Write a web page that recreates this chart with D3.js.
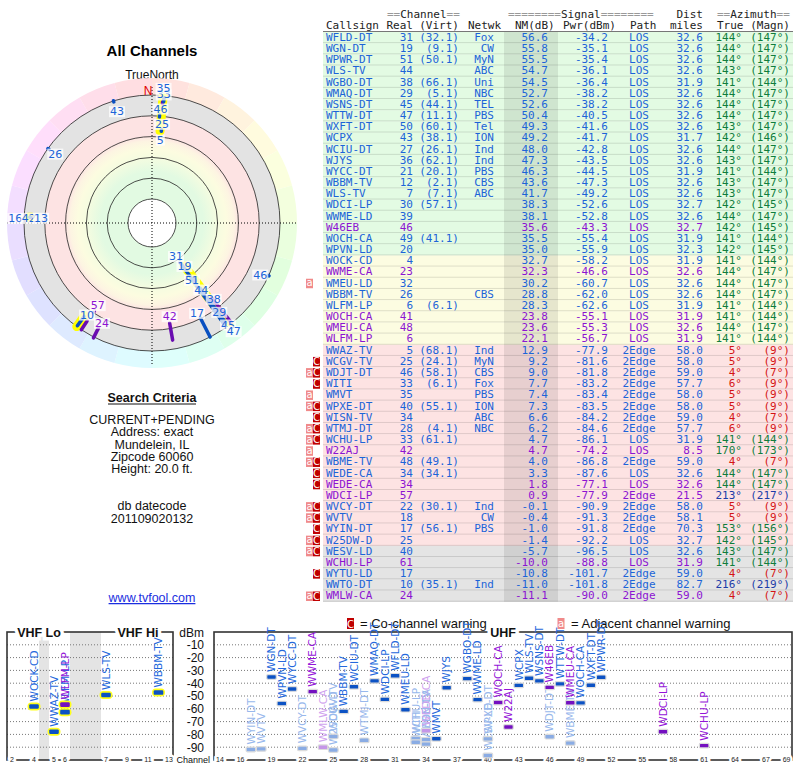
<!DOCTYPE html>
<html><head><meta charset="utf-8">
<script src="https://cdn.jsdelivr.net/npm/d3@7"></script>
<style>
body{margin:0;background:#fff;}
svg{display:block;}
</style></head>
<body>
<svg id="c" width="800" height="768"></svg>
<script>
// ================= DATA =================
const callsigns = ["WFLD-DT","WGN-DT","WPWR-DT","WLS-TV","WGBO-DT","WMAQ-DT","WSNS-DT","WTTW-DT","WXFT-DT","WCPX","WCIU-DT","WJYS","WYCC-DT","WBBM-TV","WLS-TV","WDCI-LP","WWME-LD","W46EB","WOCH-CA","WPVN-LD","WOCK-CD","WWME-CA","WMEU-LD","WBBM-TV","WLFM-LP","WOCH-CA","WMEU-CA","WLFM-LP","WWAZ-TV","WCGV-TV","WDJT-DT","WITI","WMVT","WPXE-DT","WISN-TV","WTMJ-DT","WCHU-LP","W22AJ","WBME-TV","WEDE-CA","WEDE-CA","WDCI-LP","WVCY-DT","WVTV","WYIN-DT","W25DW-D","WESV-LD","WCHU-LP","WYTU-LD","WWTO-DT","WMLW-CA"];
const realCh = [31,19,51,44,38,29,45,47,50,43,27,36,21,12,7,30,39,46,49,20,4,23,32,26,6,41,48,6,5,25,46,33,35,40,34,28,33,42,48,34,34,57,22,18,17,25,40,61,17,10,24];
const virtCh = [32.1,9.1,50.1,null,66.1,5.1,44.1,11.1,60.1,38.1,26.1,62.1,20.1,2.1,7.1,57.1,null,null,41.1,null,null,null,null,null,6.1,null,null,null,68.1,24.1,58.1,6.1,null,55.1,null,4.1,61.1,null,49.1,34.1,null,null,30.1,null,56.1,null,null,null,null,35.1,null];
const networks = ["Fox","CW","MyN","ABC","Uni","NBC","TEL","PBS","Tel","ION","Ind","Ind","PBS","CBS","ABC","","","","","","","","","CBS","","","","","Ind","MyN","CBS","Fox","PBS","ION","ABC","NBC","","","","","","","Ind","CW","PBS","","","","","Ind",""];
const nmDb = [56.6,55.8,55.5,54.7,54.5,52.7,52.6,50.4,49.3,49.2,48.0,47.3,46.3,43.6,41.7,38.3,38.1,35.6,35.5,35.0,32.7,32.3,30.2,28.8,28.3,23.8,23.6,22.1,12.9,9.2,9.0,7.7,7.4,7.3,6.6,6.2,4.7,4.7,4.0,3.3,1.8,0.9,-0.1,-0.4,-1.0,-1.4,-5.7,-10.0,-10.8,-11.0,-11.1];
const pwrDbm = [-34.2,-35.1,-35.4,-36.1,-36.4,-38.2,-38.2,-40.5,-41.6,-41.7,-42.8,-43.5,-44.5,-47.3,-49.2,-52.6,-52.8,-43.3,-55.4,-55.9,-58.2,-46.6,-60.7,-62.0,-62.6,-55.1,-55.3,-56.7,-77.9,-81.6,-81.8,-83.2,-83.4,-83.5,-84.2,-84.6,-86.1,-74.2,-86.8,-87.6,-77.1,-77.9,-90.9,-91.3,-91.8,-92.2,-96.5,-88.8,-101.7,-101.8,-90.0];
const paths = ["LOS","LOS","LOS","LOS","LOS","LOS","LOS","LOS","LOS","LOS","LOS","LOS","LOS","LOS","LOS","LOS","LOS","LOS","LOS","LOS","LOS","LOS","LOS","LOS","LOS","LOS","LOS","LOS","2Edge","2Edge","2Edge","2Edge","2Edge","2Edge","2Edge","2Edge","LOS","LOS","2Edge","LOS","LOS","2Edge","2Edge","2Edge","2Edge","LOS","LOS","LOS","2Edge","2Edge","2Edge"];
const distMi = [32.6,32.6,32.6,32.6,31.9,32.6,32.6,32.6,32.6,31.7,32.6,32.6,31.9,32.6,32.6,32.7,32.6,32.7,31.9,32.3,31.9,32.6,32.6,32.6,31.9,31.9,32.6,31.9,58.0,58.0,59.0,57.7,58.0,58.0,59.0,57.7,31.9,8.5,59.0,32.6,32.6,21.5,58.0,58.1,70.3,32.7,32.6,31.9,59.0,82.7,59.0];
const azTrue = [144,144,144,143,141,144,144,144,143,142,144,143,141,143,143,142,144,142,141,142,141,144,144,144,141,141,144,141,5,5,4,6,5,5,4,6,141,170,4,144,144,213,5,5,153,142,143,141,4,216,4];
const azMagn = [147,147,147,147,144,147,147,147,147,146,147,147,144,147,147,145,147,145,144,145,144,147,147,147,144,144,147,144,9,9,7,9,9,9,7,9,144,173,7,147,147,217,9,9,156,145,147,144,7,219,7];
const pending = [0,0,0,0,0,0,0,0,0,0,0,0,0,0,0,0,0,1,0,0,0,1,0,0,0,1,1,1,0,0,0,0,0,0,0,0,0,1,0,0,1,1,0,0,0,0,0,1,0,0,1];
const warnings = ["","","","","","","","","","","","","","","","","","","","","","","a","","","","","","","C","aC","C","a","aC","C","aC","aC","a","aC","C","C","","aC","aC","C","aC","aC","","C","","aC"];

// polar plot (azimuth in degrees, levels in dB on the radar scale)
const polarRings = [75,55,35,15,-5,-25];
const hlAz   = [143, 5, 216, 272.7];
const hlFrom = [47, 9.5, -12, -17.5];
const hlTo   = [-26, -26, -25, -20.5];
const pmAz   = [144.5, 143, 141.5, 143.5, 5.8, 4, 5, 5.5, 170, 153, 207, 213.2, 216, 213.5, 342.5, 305.6, 272.7, 114.3];
const pmFrom = [52, 31.5, 6, 20, 9.5, -4, -17, -19, 0.5, -4.4, -15.4, -3, -13, -15, -24, -23.8, -18.5, -24.3];
const pmTo   = [-22, 28.5, -24, -21, 8, -6, -19, -23, -16.3, -25, -25.9, -4, -24, -25, -25.2, -25, -19.5, -25.4];
const pmPending = [0,0,1,0,0,0,1,0,1,0,1,1,0,1,0,0,0,0];
const plText  = ["31","19","51","44","38","29","45","47","42","17","24","57","10","43","26","16","42","13","46","5","25","46","33","35"];
const plAz    = [144.2,143,144.8,143.5,140.9,142.9,143.2,143,169.3,153.4,206.6,213.4,215.3,342.6,305.6,272,272.3,272.6,115.5,5.7,5.8,4.2,5.2,4.9];
const plLevel = [58.7,46.2,31.3,18.3,3.9,-9.2,-24,-32.4,6.7,1.3,-9.4,3.3,-10,-14.4,-16.3,-33.5,-20.6,-8.7,-17.3,17.6,2.4,-12.1,-25.9,-32.2];
const plPending = [0,0,0,0,0,0,0,0,1,0,1,1,0,0,0,0,0,0,0,0,0,0,0,0];

// spectrum charts
const dbmTicks = [-10,-20,-30,-40,-50,-60,-70,-80,-90];
const vhfTicks = [2,4,5,6,7,9,11,13];
const vhfGaps = [[4,5],[6,7]];
const uhfTicks = [14,16,19,22,25,28,31,34,37,40,43,46,49,52,55,58,61,64,67,69];

const searchLines = ["CURRENT+PENDING","Address: exact","Mundelein, IL","Zipcode 60060","Height: 20.0 ft."];

// ================= DRAW =================
const SANS = "'Liberation Sans', Arial, sans-serif";
const MONO = "'DejaVu Sans Mono', monospace";
const VER = "'DejaVu Sans', Verdana, sans-serif";
const BLUE = "#1c64d8", PURPLE = "#8c14d2";
const svg = d3.select("#c");

// ---------- Left: polar ----------
svg.append("text").attr("x",152).attr("y",56).attr("text-anchor","middle")
  .attr("font-family",SANS).attr("font-weight","bold").attr("font-size",15).text("All Channels");
svg.append("text").attr("x",152).attr("y",79).attr("text-anchor","middle")
  .attr("font-family",SANS).attr("font-size",12).attr("fill","#111").text("TrueNorth");

const cx = 152, cy = 223;
const rScale = d3.scaleLinear().domain([75,-25]).range([24,128]);
const P = (az, v) => { const r = rScale(v), a = az*Math.PI/180; return [cx + r*Math.sin(a), cy - r*Math.cos(a)]; };
const pg = svg.append("g");
const defs = svg.append("defs");
const rg = defs.append("radialGradient").attr("id","bands").attr("gradientUnits","userSpaceOnUse")
  .attr("cx",cx).attr("cy",cy).attr("r",rScale(-25));
[[0,"#e2fae2"],[0.40,"#e2fae2"],[0.52,"#f6fce0"],[0.58,"#fcfce0"],[0.64,"#fdf4e2"],[0.68,"#fde3e3"],[0.835,"#fde3e3"],[0.84,"#e3e3e3"],[1,"#e3e3e3"]]
  .forEach(s=>rg.append("stop").attr("offset",s[0]).attr("stop-color",s[1]));

const arc = d3.arc();
const outerR = rScale(-25) + 17;
pg.selectAll("path.hue").data(d3.range(24)).join("path")
  .attr("transform",`translate(${cx},${cy})`)
  .attr("d", i => arc({innerRadius: rScale(-25)-1, outerRadius: outerR, startAngle: i*15*Math.PI/180, endAngle:(i+1)*15*Math.PI/180}))
  .attr("fill", i => d3.hsl(i*15+7.5, 1, 0.935).toString()).attr("stroke","none");
pg.append("circle").attr("cx",cx).attr("cy",cy).attr("r",rScale(-25)).attr("fill","url(#bands)");
pg.selectAll("circle.ring").data(polarRings).join("circle")
  .attr("cx",cx).attr("cy",cy).attr("r",d=>rScale(d))
  .attr("fill",(d,i)=> i===0 ? "#fff" : "none").attr("stroke","#222").attr("stroke-width",0.8);
pg.append("line").attr("x1",cx).attr("x2",cx).attr("y1",87).attr("y2",365)
  .attr("stroke","#000").attr("stroke-width",1).attr("stroke-dasharray","1,2");
pg.append("line").attr("x1",7).attr("x2",297).attr("y1",cy).attr("y2",cy)
  .attr("stroke","#000").attr("stroke-width",1).attr("stroke-dasharray","1,2");
pg.append("text").attr("x",148).attr("y",95).attr("text-anchor","middle").attr("font-family",SANS)
  .attr("font-size",12).attr("fill","#e00000").text("N");

// highlights
pg.selectAll("line.hl").data(d3.range(hlAz.length)).join("line")
  .attr("x1",i=>P(hlAz[i],hlFrom[i])[0]).attr("y1",i=>P(hlAz[i],hlFrom[i])[1])
  .attr("x2",i=>P(hlAz[i],hlTo[i])[0]).attr("y2",i=>P(hlAz[i],hlTo[i])[1])
  .attr("stroke","#ffff00").attr("stroke-width",9).attr("stroke-linecap","round");
// marks
pg.selectAll("line.pm").data(d3.range(pmAz.length)).join("line")
  .attr("x1",i=>P(pmAz[i],pmFrom[i])[0]).attr("y1",i=>P(pmAz[i],pmFrom[i])[1])
  .attr("x2",i=>P(pmAz[i],pmTo[i])[0]).attr("y2",i=>P(pmAz[i],pmTo[i])[1])
  .attr("stroke",i=>pmPending[i] ? "#6a0cb0" : "#0a50c0").attr("stroke-width",3.5).attr("stroke-linecap","round");
// labels
plText.forEach((t,i)=>{
  const [x,y] = P(plAz[i], plLevel[i]);
  const lg = pg.append("g");
  const tx = lg.append("text").attr("x",x).attr("y",y).attr("dy","0.35em").attr("text-anchor","middle")
    .attr("font-family",VER).attr("font-size",11).attr("fill",plPending[i]?PURPLE:BLUE).text(t);
  const b = tx.node().getBBox();
  lg.insert("rect","text").attr("x",b.x-1).attr("y",b.y+1).attr("width",b.width+2).attr("height",b.height-2)
    .attr("fill","#fff").attr("opacity",0.75);
});

// search criteria
const sc = svg.append("g").attr("font-family",SANS).attr("text-anchor","middle").attr("fill","#111");
sc.append("text").attr("x",152).attr("y",402).attr("font-weight","bold").attr("font-size",12.5).text("Search Criteria");
sc.append("line").attr("x1",108).attr("x2",196).attr("y1",404).attr("y2",404).attr("stroke","#111").attr("stroke-width",1);
searchLines.forEach((s,i)=> sc.append("text").attr("x",152).attr("y",424+i*12.3).attr("font-size",12.5).text(s));
sc.append("text").attr("x",152).attr("y",510).attr("font-size",12.5).text("db datecode");
sc.append("text").attr("x",152).attr("y",522.5).attr("font-size",12.5).text("201109020132");
sc.append("text").attr("x",152).attr("y",602).attr("font-size",12.5).attr("fill","#1a2ee0")
  .attr("text-decoration","underline").text("www.tvfool.com");

// ---------- Table ----------
const n = callsigns.length;
const yRow = d3.scaleBand().domain(d3.range(n)).range([32, 32 + n*11.17]);
const tbl = svg.append("g");
const rowFill = v => v >= 35 ? "#e3fbe3" : v >= 15 ? "#fcfce1" : v >= -2 ? "#fde3e3" : "#e4e4e4";
tbl.selectAll("rect.row").data(d3.range(n)).join("rect")
  .attr("x",323).attr("y",i=>yRow(i)).attr("width",470).attr("height",yRow.bandwidth()+0.3)
  .attr("fill",i=>rowFill(nmDb[i]));
tbl.selectAll("line.sep").data(d3.range(n)).join("line")
  .attr("x1",323).attr("x2",793).attr("y1",i=>yRow(i)+yRow.bandwidth()-0.5).attr("y2",i=>yRow(i)+yRow.bandwidth()-0.5)
  .attr("stroke","rgba(0,0,0,0.12)").attr("stroke-width",1);
tbl.append("rect").attr("x",504).attr("y",yRow(0)).attr("width",54).attr("height",yRow.range()[1]-yRow(0))
  .attr("fill","rgba(0,0,0,0.085)");
tbl.append("line").attr("x1",323).attr("x2",793).attr("y1",31.5).attr("y2",31.5)
  .attr("stroke","#777").attr("stroke-width",1);

const hdr = tbl.append("g").attr("font-family",MONO).attr("font-size",11).attr("fill","#222");
function hdrEq(x, anchor, parts){
  const t = hdr.append("text").attr("x",x).attr("y",17.5).attr("text-anchor",anchor);
  parts.forEach(p=> t.append("tspan").attr("fill", p[1] ? "#999" : "#222").text(p[0]));
}
hdrEq(387,"start",[["==",1],["Channel",0],["==",1]]);
hdrEq(508,"start",[["========",1],["Signal",0],["========",1]]);
hdrEq(703,"end",[["Dist",0]]);
hdrEq(717,"start",[["==",1],["Azimuth",0],["==",1]]);
[["Callsign",326,"start"],["Real",413,"end"],["(Virt)",459,"end"],["Netwk",468,"start"],["NM(dB)",515,"start"],
 ["Pwr(dBm)",563,"start"],["Path",630,"start"],["miles",703,"end"],["True",717,"start"],["(Magn)",790,"end"]]
 .forEach(h=> hdr.append("text").attr("x",h[1]).attr("y",29).attr("text-anchor",h[2]).text(h[0]));

const azColor = a => Math.abs(a-143) <= 30 ? "#0f7d3c" : (a <= 30 || a >= 330) ? "#d41414" : "#1c3ca8";
const cols = [
  {v:i=>callsigns[i], x:326, a:"start"},
  {v:i=>realCh[i], x:413, a:"end"},
  {v:i=>virtCh[i]==null ? "" : "("+virtCh[i].toFixed(1)+")", x:459, a:"end"},
  {v:i=>networks[i], x:494, a:"end"},
  {v:i=>nmDb[i].toFixed(1), x:548, a:"end"},
  {v:i=>pwrDbm[i].toFixed(1), x:608, a:"end"},
  {v:i=>paths[i], x:639, a:"middle"},
  {v:i=>distMi[i].toFixed(1), x:703, a:"end"},
  {v:i=>azTrue[i]+"°", x:742, a:"end", az:true},
  {v:i=>"("+azMagn[i]+"°)", x:790, a:"end", az:true}
];
const body = tbl.append("g").attr("font-family",MONO).attr("font-size",11);
cols.forEach(c=>{
  body.selectAll(null).data(d3.range(n)).join("text")
    .attr("x",c.x).attr("y",i=>yRow(i)+8.9).attr("text-anchor",c.a)
    .attr("fill",i=> c.az ? azColor(azTrue[i]) : (pending[i] ? PURPLE : BLUE))
    .text(c.v);
});
// warning markers
const wm = tbl.append("g").attr("font-family",VER).attr("font-size",10);
d3.range(n).forEach(i=>{
  const w = warnings[i];
  if (w.includes("a")) {
    wm.append("rect").attr("x",306).attr("y",yRow(i)+1).attr("width",7).attr("height",9.5).attr("fill","#f08a8a");
    wm.append("text").attr("x",309.5).attr("y",yRow(i)+8.6).attr("text-anchor","middle").attr("fill","#fff").text("a");
  }
  if (w.includes("C")) {
    wm.append("rect").attr("x",313).attr("y",yRow(i)+1).attr("width",7).attr("height",9.5).attr("fill","#c00000");
    wm.append("text").attr("x",316.5).attr("y",yRow(i)+9).attr("text-anchor","middle").attr("fill","#fff").text("C");
  }
});

// ---------- Legend ----------
const lgd = svg.append("g").attr("font-family",SANS).attr("font-size",13);
lgd.append("rect").attr("x",347).attr("y",618).attr("width",7).attr("height",11).attr("fill","#c00000");
lgd.append("text").attr("x",350.5).attr("y",627.5).attr("text-anchor","middle").attr("font-size",10).attr("font-family",VER).attr("fill","#fff").text("C");
lgd.append("text").attr("x",360).attr("y",627.5).attr("fill","#111").text("= Co-channel warning");
lgd.append("rect").attr("x",557.5).attr("y",618).attr("width",7).attr("height",11).attr("fill","#f08a8a");
lgd.append("text").attr("x",561).attr("y",627).attr("text-anchor","middle").attr("font-size",10).attr("font-family",VER).attr("fill","#fff").text("a");
lgd.append("text").attr("x",571).attr("y",627.5).attr("fill","#111").text("= Adjacent channel warning");

// ---------- Spectrum charts ----------
const yDbm = d3.scaleLinear().domain([0,-100]).range([632,760]);
const xV = d3.scaleLinear().domain([2,4,5,6,7,13]).range([12,34,54,65,106,169]);
const xU = d3.scaleLinear().domain([14,69]).range([220,786.6]);
const sp = svg.append("g");

// VHF gaps
sp.selectAll("rect.gap").data(vhfGaps).join("rect")
  .attr("x",d=>xV(d[0])+5).attr("width",d=>xV(d[1])-xV(d[0])-10)
  .attr("y",yDbm(0)).attr("height",yDbm(-100)-yDbm(0)).attr("fill","#e4e4e4");
// grids
[[7,173],[214,792]].forEach(r=>{
  sp.selectAll(null).data(dbmTicks).join("line")
    .attr("x1",r[0]).attr("x2",r[1]).attr("y1",d=>yDbm(d)).attr("y2",d=>yDbm(d))
    .attr("stroke","#777").attr("stroke-width",1).attr("stroke-dasharray","1,2");
});
// frames
[[7,173],[214,792]].forEach(r=>{
  sp.append("rect").attr("x",r[0]).attr("y",yDbm(0)).attr("width",r[1]-r[0]).attr("height",yDbm(-100)-yDbm(0))
    .attr("fill","none").attr("stroke","#333").attr("stroke-width",1.6);
});
// y axis labels
const ya = sp.append("g").attr("font-family",SANS).attr("font-size",12).attr("fill","#111").attr("text-anchor","end");
ya.append("text").attr("x",204).attr("y",637).text("dBm");
ya.selectAll(null).data(dbmTicks).join("text").attr("x",204).attr("y",d=>yDbm(d)).attr("dy","0.36em").text(d=>d);
sp.append("text").attr("x",210).attr("y",760).attr("dy","0.35em").attr("text-anchor","end")
  .attr("font-family",SANS).attr("font-size",9).attr("fill","#111").text("Channel");
// x tick labels with halo
function xLabels(ticks, sc){
  sp.selectAll(null).data(ticks).join("text").attr("x",d=>sc(d)).attr("y",760).attr("dy","0.35em")
    .attr("text-anchor","middle").attr("font-family",SANS).attr("font-size",7).attr("fill","#222")
    .attr("stroke","#fff").attr("stroke-width",5).attr("paint-order","stroke").text(d=>d);
}
xLabels(vhfTicks, xV);
xLabels(uhfTicks, xU);
// titles
const tt = sp.append("g").attr("font-family",SANS).attr("font-weight","bold").attr("font-size",12.5)
  .attr("text-anchor","middle").attr("fill","#111").attr("stroke","#fff").attr("stroke-width",7).attr("paint-order","stroke");
tt.append("text").attr("x",39).attr("y",637).text("VHF Lo");
tt.append("text").attr("x",138).attr("y",637).text("VHF Hi");
tt.append("text").attr("x",503).attr("y",637).text("UHF");

// marks
const shown = d3.range(n).filter(i => pwrDbm[i] >= -100);
const faded = i => warnings[i].includes("C");
const order = shown.slice().sort((a,b)=> (faded(b)?1:0) - (faded(a)?1:0));
const labCol = i => faded(i) ? (pending[i] ? "#cfa2ee" : "#98b8ec") : (pending[i] ? "#9414d8" : "#2468dc");
const markCol = i => faded(i) ? (pending[i] ? "#c596e8" : "#8aace4") : (pending[i] ? "#7410c0" : "#0c52c4");
function drawBars(idx, sc, vhf){
  const gL = sp.append("g"), gM = sp.append("g");
  idx.forEach(i=>{
    const x = sc(realCh[i]), y = yDbm(pwrDbm[i]);
    gL.append("text").attr("transform",`translate(${x},${y-5}) rotate(-90)`).attr("dy","0.36em")
      .attr("font-family",VER).attr("font-size",10.5).attr("fill",labCol(i)).text(callsigns[i]);
    if (vhf) gM.append("rect").attr("x",x-6.5).attr("y",y-4).attr("width",13).attr("height",8).attr("rx",4).attr("fill","#ffff1a");
    gM.append("rect").attr("x",x-4.8).attr("y",y-2.3).attr("width",9.6).attr("height",4.6).attr("rx",1.2)
      .attr("fill",markCol(i)).attr("stroke", vhf ? "none" : "#dcdcdc").attr("stroke-width",1.2);
  });
}
drawBars(order.filter(i=>realCh[i] <= 13), xV, true);
drawBars(order.filter(i=>realCh[i] >= 14), xU, false);
</script>
</body></html>
